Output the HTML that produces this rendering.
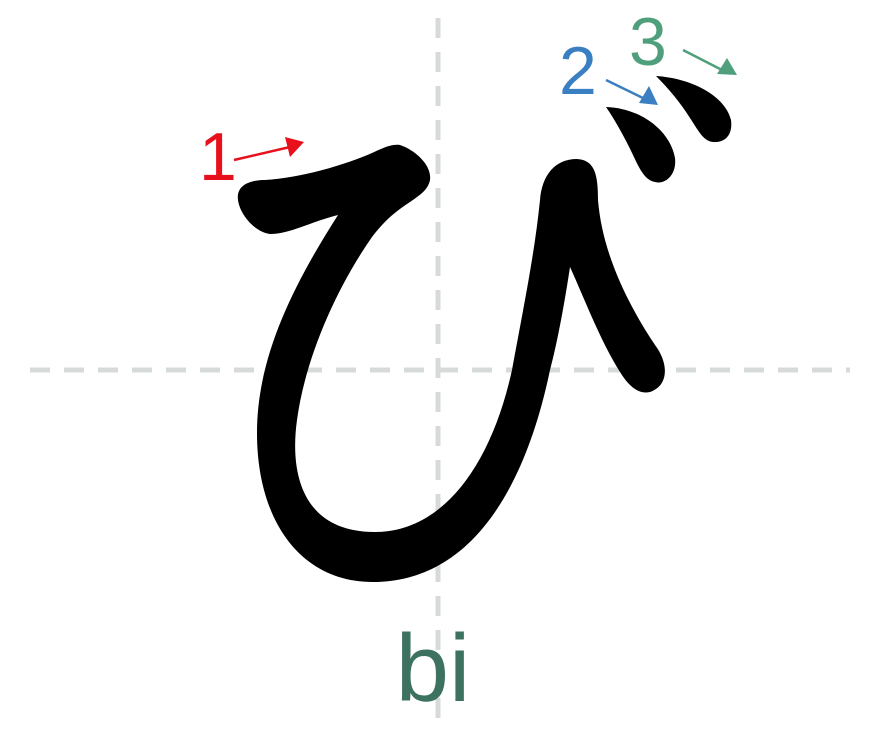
<!DOCTYPE html>
<html><head><style>html,body{margin:0;padding:0;background:#fff}svg{display:block}</style></head>
<body>
<svg width="880" height="739" viewBox="0 0 880 739" xmlns="http://www.w3.org/2000/svg">
<g stroke="#d6dbd9" stroke-width="5" stroke-dasharray="20,14" fill="none">
<line x1="438" y1="18" x2="438" y2="725"/>
<line x1="30" y1="370" x2="850" y2="370"/>
</g>
<path fill="#000" d="M238,200 C236,185 250,180 265,180 C300,178 345,165 372,153 C385,147 392,144 400,145 C415,150 432,165 430,180 C428,190 420,195 410,202 C395,212 385,220 372,237 C335,290 305,360 297,420 C290,470 300,532 375,532 C440,532 490,470 512,370 C525,300 535,250 540,200 C542,175 555,159 577,159 C595,160 598,175 598,200 C602,250 625,300 655,345 C668,362 670,385 650,392 C638,395 628,385 620,372 C600,340 585,300 570,267 C565,300 558,340 550,370 C525,490 470,582 373,582 C300,582 257,520 257,433 C257,360 290,290 338,215 C310,222 290,234 270,234 C255,232 240,215 238,200 Z"/>
<path fill="#000" d="M606,107 C640,108 670,130 675,158 C677,175 665,185 655,182 C645,180 640,170 633,155 C625,138 615,120 606,107Z"/>
<path fill="#000" d="M656,76 C690,78 725,95 731,120 C733,135 725,143 713,142 C703,141 698,130 690,118 C680,102 668,88 656,76Z"/>
<g font-family="Liberation Sans, sans-serif" font-size="68">
<text x="199" y="180" fill="#e8101c">1</text>
<text x="559" y="94" fill="#3a7fc2">2</text>
<text x="629" y="65" fill="#4f9e7c">3</text>
</g>
<line x1="234" y1="160" x2="290" y2="147" stroke="#e8101c" stroke-width="2.5"/>
<polygon points="304,142 285,137 290,157" fill="#e8101c"/>
<line x1="606" y1="80" x2="645" y2="99" stroke="#3a7fc2" stroke-width="2.5"/>
<polygon points="658,105 649,86 639,103" fill="#3a7fc2"/>
<line x1="683" y1="50" x2="722" y2="70" stroke="#4f9e7c" stroke-width="2.5"/>
<polygon points="737,75 727,58 717,74" fill="#4f9e7c"/>
<text x="433" y="701" text-anchor="middle" font-family="Liberation Sans, sans-serif" font-size="96" fill="#3e7260">bi</text>
</svg>
</body></html>
